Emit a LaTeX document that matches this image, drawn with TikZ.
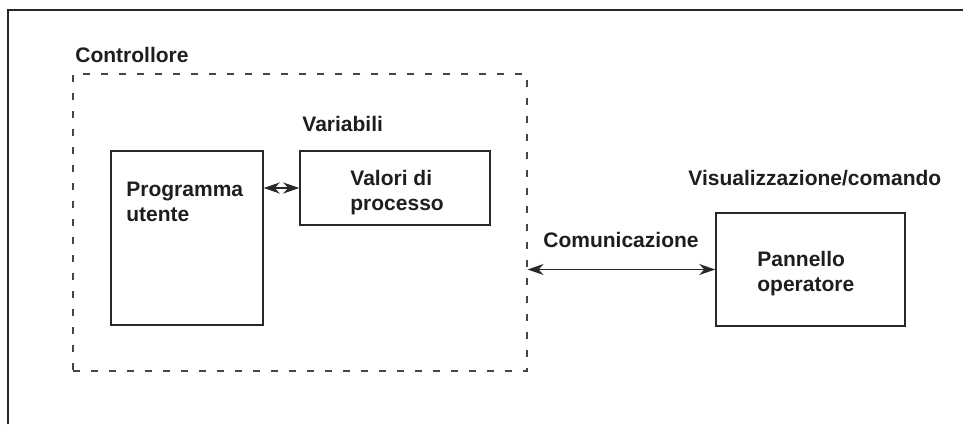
\documentclass[tikz,border=0pt]{standalone}
\usepackage{fontspec}
\setmainfont{Liberation Sans}
\usetikzlibrary{arrows.meta,positioning}
\definecolor{plcline}{RGB}{40,40,40}
\definecolor{plctext}{RGB}{30,30,30}
\definecolor{plcdash}{RGB}{70,70,70}

\begin{document}
\begin{tikzpicture}[x=0.5pt,y=-0.5pt,
    box/.style={draw=plcline, line width=0.75pt, inner sep=0pt},
    lbl/.style={text=plctext, font=\bfseries\fontsize{10.5}{12.5}\selectfont,
        inner sep=0pt, anchor=base west, align=left},
    link/.style={plcline, line width=0.75pt,
        {Stealth[length=8pt,width=5.5pt,inset=2.5pt]}-{Stealth[length=8pt,width=5.5pt,inset=2.5pt]}}]
    \useasboundingbox (0,0) rectangle (963,424);

    % outer frame, open to the right and bottom
    \draw[plcline, line width=0.75pt] (8,424) -- (8,10) -- (963,10);

    % controller area
    \node[draw=plcdash, line width=0.6pt, dash pattern=on 3.5pt off 5.5pt,
        minimum width=227pt, minimum height=148.5pt, inner sep=0pt] (ctrl) at (300,222.5) {};
    \node[lbl] (ctrllbl) at (75,62) {Controllore};

    \node[box, minimum width=76pt, minimum height=87pt] (prog) at (187,238) {};
    \node[lbl] (proglbl) at (126,221) {Programma\\utente};

    \node[lbl] (varlbl) at (302,131) {Variabili};
    \node[box, minimum width=95pt, minimum height=37pt] (valori) at (395,188) {};
    \node[lbl] (valorilbl) at (350,210) {Valori di\\processo};

    \draw[link] (prog.east |- valori.west) -- (valori.west);

    % operator side
    \node[lbl] (vislbl) at (688,185) {Visualizzazione/comando};
    \node[box, minimum width=94.5pt, minimum height=56.5pt] (panel) at (810.5,269.5) {};
    \node[lbl] (panellbl) at (757,291) {Pannello\\operatore};

    \node[lbl] (comlbl) at (543,247) {Comunicazione};
    \draw[link] (ctrl.east |- panel.west) -- (panel.west);
\end{tikzpicture}
\end{document}
